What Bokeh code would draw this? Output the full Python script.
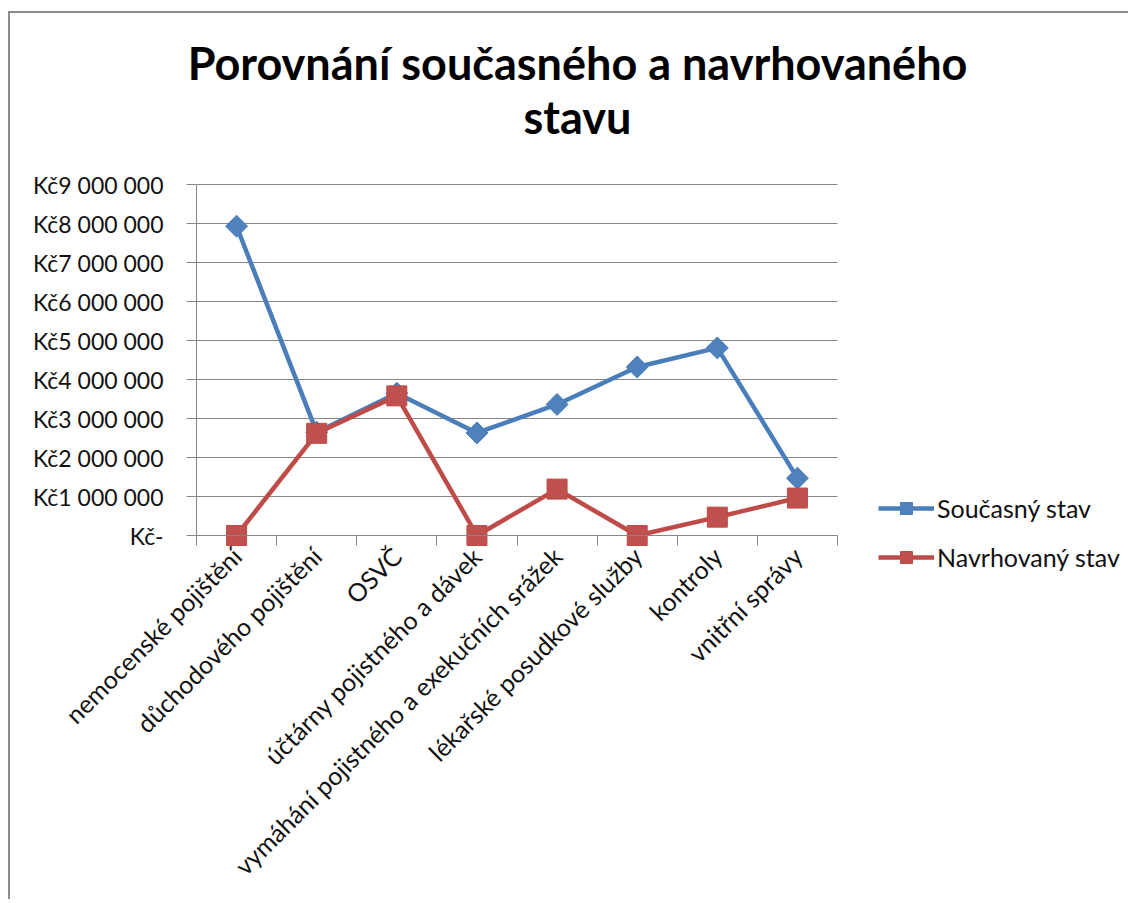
import math
from bokeh.plotting import figure
from bokeh.models import Range1d, FixedTicker, Label, Legend, LegendItem
from bokeh.embed import file_html
from bokeh.resources import INLINE

categories = ["nemocenské pojištění", "důchodového pojištění", "OSVČ",
              "účtárny pojistného a dávek", "vymáhání pojistného a exekučních srážek",
              "lékařské posudkové služby", "kontroly", "vnitřní správy"]
soucasny = [7930000, 2650000, 3650000, 2630000, 3360000, 4320000, 4810000, 1470000]
navrhovany = [0, 2620000, 3580000, 0, 1190000, 0, 470000, 960000]
y_ticks = [0, 1000000, 2000000, 3000000, 4000000, 5000000, 6000000, 7000000, 8000000, 9000000]
y_labels = ["Kč-", "Kč1 000 000", "Kč2 000 000", "Kč3 000 000", "Kč4 000 000",
            "Kč5 000 000", "Kč6 000 000", "Kč7 000 000", "Kč8 000 000", "Kč9 000 000"]
title_lines = ["Porovnání současného a navrhovaného", "stavu"]
series_names = ["Současný stav", "Navrhovaný stav"]

FONT = "Lato"
W, H = 1120, 888                 # canvas (inside the 2px grey chart border)
PL, PR, PT, PB = 186, 827, 171, 522   # plot area in canvas pixels
YMAX = 9000000
n = len(categories)
ux = (PR - PL) / n               # px per category
uy = (PB - PT) / YMAX            # px per Kč

x_range = Range1d(-PL / ux, (W - PL) / ux)
y_range = Range1d(-(H - PB) / uy, YMAX + PT / uy)

p = figure(width=W, height=H, output_backend="svg", toolbar_location=None,
           x_range=x_range, y_range=y_range, min_border=0)
p.outline_line_color = None
p.background_fill_color = "white"
p.border_fill_color = "white"
p.styles = {"border-left": "2px solid #8c8c8c", "border-top": "2px solid #8c8c8c",
            "margin-top": "11px", "margin-left": "8px"}
p.xgrid.visible = False
p.ygrid.visible = False

xs = [i + 0.5 for i in range(n)]
grey = "#868686"

# horizontal gridlines across the plot area
p.segment(x0=[0] * len(y_ticks), x1=[n] * len(y_ticks), y0=y_ticks, y1=y_ticks,
          line_color=grey, line_width=1)

# y axis
ya = p.yaxis[0]
ya.fixed_location = 0
ya.bounds = (0, YMAX)
ya.ticker = FixedTicker(ticks=y_ticks)
ya.major_label_overrides = {t: l for t, l in zip(y_ticks, y_labels)}
ya.major_label_text_font = FONT
ya.major_label_text_font_size = "23px"
ya.major_label_text_color = "#111111"
ya.major_tick_out = 10
ya.major_tick_in = 0
ya.minor_tick_out = 0
ya.minor_tick_in = 0
ya.major_label_standoff = 23
ya.axis_line_color = grey
ya.major_tick_line_color = grey

# x axis (ticks between categories, labels at category centres)
xa = p.xaxis[0]
xa.fixed_location = 0
xa.bounds = (0, n)
xa.ticker = FixedTicker(ticks=xs, minor_ticks=list(range(n + 1)))
xa.major_label_overrides = {x: c for x, c in zip(xs, categories)}
xa.major_label_orientation = math.pi / 4
xa.major_label_text_font = FONT
xa.major_label_text_font_size = "25px"
xa.major_label_text_color = "#111111"
xa.major_tick_out = 0
xa.major_tick_in = 0
xa.minor_tick_out = 10
xa.minor_tick_in = 0
xa.minor_tick_line_color = grey
xa.axis_line_color = grey
xa.major_label_standoff = 6

blue_line = "#4A7EBB"
blue_fill = "#4F81BD"
red_line = "#BE4B48"
red_fill = "#C0504D"

l1 = p.line(xs, soucasny, line_color=blue_line, line_width=4.5)
m1 = p.scatter(xs, soucasny, marker="square", angle=math.pi / 4, size=15.5,
               fill_color=blue_fill, line_color=blue_line)
l2 = p.line(xs, navrhovany, line_color=red_line, line_width=4.5)
m2 = p.scatter(xs, navrhovany, marker="square", size=20,
               fill_color=red_fill, line_color=red_line)

legend = Legend(items=[LegendItem(label=series_names[0], renderers=[l1, m1]),
                       LegendItem(label=series_names[1], renderers=[l2, m2])],
                location=(868, H - 559), padding=0, margin=0, spacing=19,
                glyph_width=56, glyph_height=30, label_height=30, label_standoff=3,
                border_line_color=None, background_fill_alpha=0,
                label_text_font=FONT, label_text_font_size="25px",
                label_text_color="#111111")
p.add_layout(legend, "center")

for txt, base in zip(title_lines, [49, 103]):
    p.add_layout(Label(x=567, y=H - base, x_units="screen", y_units="screen",
                       text=txt, text_align="center", text_baseline="alphabetic",
                       text_font=FONT, text_font_style="bold", text_font_size="45px",
                       text_color="#000000"))

open("out.html", "w").write(file_html(p, INLINE))
